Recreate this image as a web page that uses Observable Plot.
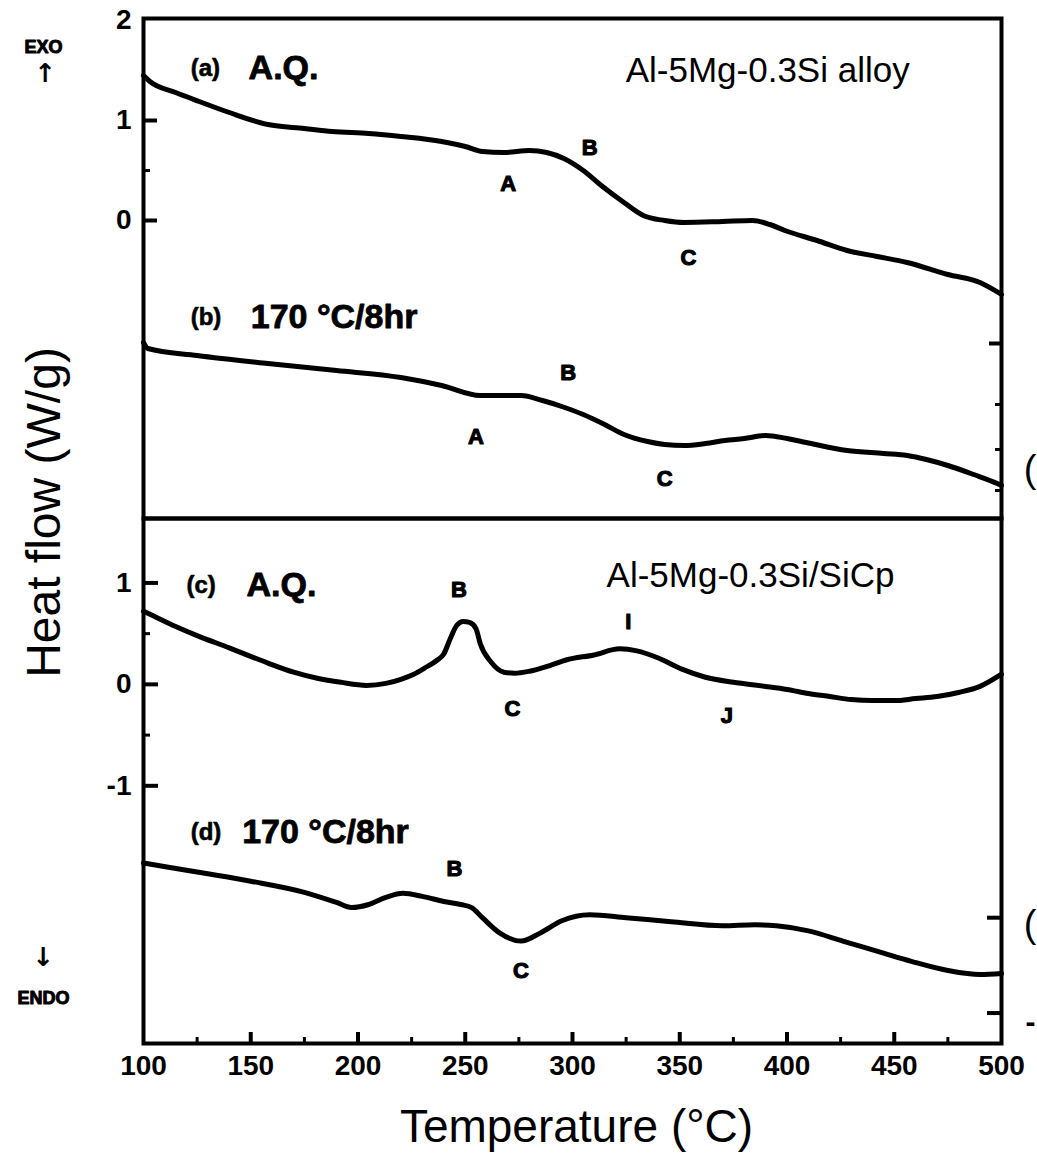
<!DOCTYPE html>
<html>
<head>
<meta charset="utf-8">
<script src="https://cdn.jsdelivr.net/npm/d3@7"></script>
<script src="https://cdn.jsdelivr.net/npm/@observablehq/plot@0.6"></script>
<style>
  html, body { margin: 0; padding: 0; background: #fff; }
  #fig { position: relative; width: 1037px; height: 1171px; background: #fff; overflow: hidden; }
  #fig svg { position: absolute; left: 0; }
</style>
</head>
<body>
<div id="fig"></div>
<script>
// ---------------- data ----------------
// (a) Al-5Mg-0.3Si alloy, as quenched
const tempA = [100,103,115,126,140,158,175,188,205,220,239,250,258,268,280,288,296,305,314,324,333,343,352,370,384,392,399,414,428,442,456,475,490,500];
const heatA = [1.45,1.39,1.28,1.19,1.08,0.96,0.92,0.89,0.87,0.84,0.79,0.74,0.69,0.68,0.7,0.68,0.62,0.5,0.34,0.18,0.05,0.0,-0.02,-0.01,0.0,-0.04,-0.1,-0.2,-0.3,-0.36,-0.42,-0.54,-0.62,-0.74];
// (b) Al-5Mg-0.3Si alloy, 170 °C/8hr
const tempB = [100,102,125,158,190,220,239,257,266,276,286,295,305,315,324,335,343,352,362,371,380,390,400,409,428,445,456,465,475,487,498,500];
const heatB = [-1.22,-1.28,-1.35,-1.43,-1.5,-1.57,-1.65,-1.75,-1.75,-1.75,-1.8,-1.86,-1.94,-2.04,-2.14,-2.21,-2.24,-2.25,-2.23,-2.2,-2.18,-2.15,-2.18,-2.22,-2.3,-2.33,-2.35,-2.39,-2.45,-2.54,-2.63,-2.65];
// (c) Al-5Mg-0.3Si/SiCp, as quenched
const tempC = [100,102,115,125,140,158,170,181,192,204,213,220,226,231,237,240,243,246,249,252,255,257,262,268,273,280,290,297,310,322,330,340,351,362,375,390,400,410,420,430,440,450,460,470,480,490,500];
const heatC = [0.72,0.70,0.57,0.48,0.36,0.21,0.12,0.06,0.02,-0.01,0.01,0.05,0.1,0.16,0.24,0.3,0.45,0.58,0.62,0.61,0.55,0.4,0.22,0.12,0.11,0.13,0.19,0.24,0.29,0.35,0.33,0.26,0.15,0.07,0.02,-0.02,-0.05,-0.09,-0.12,-0.15,-0.16,-0.16,-0.14,-0.12,-0.08,-0.02,0.1];
// (d) Al-5Mg-0.3Si/SiCp, 170 °C/8hr
const tempD = [100,125,150,175,190,197,205,213,221,230,240,248,253,258,266,276,285,295,308,325,346,370,385,395,410,426,445,458,475,490,500];
const heatD = [-1.76,-1.85,-1.94,-2.05,-2.15,-2.2,-2.17,-2.1,-2.06,-2.09,-2.14,-2.17,-2.2,-2.3,-2.45,-2.53,-2.45,-2.33,-2.27,-2.3,-2.34,-2.38,-2.37,-2.38,-2.43,-2.53,-2.65,-2.73,-2.82,-2.86,-2.85];

// axis ticks
const xLabels = [100,150,200,250,300,350,400,450,500];
const xMajorTicks = [150,200,250,300,350,400,450];
const xMinorTicks = [125,175,225,275,325,375,425,475];
const yLabelsTop = [2,1,0];
const yMajorTop = [1,0];
const yMinorTop = [0.5];
const yLabelsBottom = [1,0,-1];
const yMajorBottom = [1,0,-1];
const yMinorBottom = [0.5,-0.5];
// stray ticks of the neighbouring figure on the right edge
const rightMajorTop = [-1.23];
const rightMinorTop = [-1.84,-2.29,-2.7];
const rightMajorBottom = [-2.3,-3.24];

// feature letters (temperature, heat flow)
const peakTop = [
  {label:"A", t:270, v:0.37}, {label:"B", t:308, v:0.73}, {label:"C", t:354, v:-0.37},
  {label:"A", t:255, v:-2.16}, {label:"B", t:298, v:-1.52}, {label:"C", t:343, v:-2.58}
];
const peakBottom = [
  {label:"B", t:247, v:0.93}, {label:"C", t:272, v:-0.24}, {label:"I", t:326, v:0.62}, {label:"J", t:372, v:-0.31},
  {label:"B", t:245, v:-1.82}, {label:"C", t:276, v:-2.82}
];
// panel captions
const captionSmallTop = [{label:"(a)", t:122, v:1.52}, {label:"(b)", t:122, v:-0.97}];
const captionBigTop = [{label:"A.Q.", t:149, v:1.52}, {label:"170 °C/8hr", t:150, v:-0.97}];
const captionSmallBottom = [{label:"(c)", t:120, v:0.975}, {label:"(d)", t:122, v:-1.46}];
const captionBigBottom = [{label:"A.Q.", t:148, v:0.975}, {label:"170 °C/8hr", t:146, v:-1.46}];
const alloyTop = [{label:"Al-5Mg-0.3Si alloy", t:391, v:1.5}];
const alloyBottom = [{label:"Al-5Mg-0.3Si/SiCp", t:383, v:1.07}];

const toRows = (ts, vs) => ts.map((t, i) => ({t, v: vs[i]}));
const curveA = toRows(tempA, heatA);
const curveB = toRows(tempB, heatB);
const curveC = toRows(tempC, heatC);
const curveD = toRows(tempD, heatD);

const FB = "'Liberation Sans Narrow','Liberation Sans',Arial,sans-serif";
const FR = "'Liberation Sans',Arial,sans-serif";
const W = 1037, ML = 143, MR = 36;

const lineOpts = {x: "t", y: "v", stroke: "#000", strokeWidth: 5, curve: "monotone-x", strokeLinejoin: "round", strokeLinecap: "round"};
const blank = () => "";
const heavy = {fontWeight: "bold", stroke: "#000", strokeWidth: 1.1, fill: "#000"};
const letterOpts = {x: "t", y: "v", text: "label", fontSize: 22, fontFamily: FR, ...heavy};

const topSvg = Plot.plot({
  width: W, height: 520,
  marginLeft: ML, marginRight: MR, marginTop: 18, marginBottom: 2,
  style: {background: "none", overflow: "visible", fontFamily: FR, color: "#000"},
  x: {domain: [100, 500], label: null, axis: null},
  y: {domain: [-2.98, 2.02], label: null},
  marks: [
    Plot.line(curveA, lineOpts),
    Plot.line(curveB, lineOpts),
    Plot.frame({stroke: "#000", strokeWidth: 4}),
    Plot.axisY(yMajorTop, {tickSize: -14, strokeWidth: 4, tickFormat: blank, label: null}),
    Plot.axisY(yMinorTop, {tickSize: -7, strokeWidth: 3, tickFormat: blank, label: null}),
    Plot.axisY(yLabelsTop, {tickSize: 0, tickPadding: 12, fontSize: 28, fontFamily: FB, ...heavy, tickFormat: d => String(d), label: null}),
    Plot.axisY(rightMajorTop, {anchor: "right", tickSize: -13, strokeWidth: 4, tickFormat: blank, label: null}),
    Plot.axisY(rightMinorTop, {anchor: "right", tickSize: -7, strokeWidth: 3, tickFormat: blank, label: null}),
    Plot.text(peakTop, letterOpts),
    Plot.text(captionSmallTop, {x: "t", y: "v", text: "label", fontSize: 24, fontFamily: FR, ...heavy, strokeWidth: 0.6, textAnchor: "start"}),
    Plot.text(captionBigTop, {x: "t", y: "v", text: "label", fontSize: 34, fontFamily: FR, ...heavy, strokeWidth: 0.8, textAnchor: "start"}),
    Plot.text(alloyTop, {x: "t", y: "v", text: "label", fontSize: 35, fontFamily: FR}),
    Plot.text(["EXO"], {text: d => d, frameAnchor: "top-left", textAnchor: "middle", dx: -100, dy: 22, fontSize: 18, fontFamily: FR, ...heavy, strokeWidth: 1}),
    Plot.text(["↑"], {text: d => d, frameAnchor: "top-left", textAnchor: "middle", dx: -98, dy: 45, fontSize: 26, fontWeight: "bold", fontFamily: "DejaVu Sans"}),
    Plot.text(["Heat flow (W/g)"], {text: d => d, frameAnchor: "left", textAnchor: "middle", rotate: -90, dx: -99, dy: 244, fontSize: 48, fontFamily: FR}),
    Plot.text(["("], {text: d => d, frameAnchor: "top-right", textAnchor: "end", dx: 35, dy: 437, fontSize: 38, fontFamily: FR})
  ]
});

const bottomSvg = Plot.plot({
  width: W, height: 653,
  marginLeft: ML, marginRight: MR, marginTop: 0, marginBottom: 128,
  style: {background: "none", overflow: "visible", fontFamily: FR, color: "#000"},
  x: {domain: [100, 500], label: null},
  y: {domain: [-3.54, 1.635], label: null},
  marks: [
    Plot.line(curveC, lineOpts),
    Plot.line(curveD, lineOpts),
    Plot.frame({stroke: "#000", strokeWidth: 4}),
    Plot.axisY(yMajorBottom, {tickSize: -15, strokeWidth: 4, tickFormat: blank, label: null}),
    Plot.axisY(yMinorBottom, {tickSize: -7, strokeWidth: 3, tickFormat: blank, label: null}),
    Plot.axisY(yLabelsBottom, {tickSize: 0, tickPadding: 12, fontSize: 28, fontFamily: FB, ...heavy, tickFormat: d => String(d), label: null}),
    Plot.axisY(rightMajorBottom, {anchor: "right", tickSize: -15, strokeWidth: 4, tickFormat: blank, label: null}),
    Plot.axisX(xMajorTicks, {tickSize: -11, strokeWidth: 4, tickFormat: blank, label: null}),
    Plot.axisX(xMinorTicks, {tickSize: -6, strokeWidth: 3, tickFormat: blank, label: null}),
    Plot.axisX(xLabels, {tickSize: 0, tickPadding: 12, fontSize: 28, fontFamily: FB, ...heavy, tickFormat: d => String(d), label: null}),
    Plot.text(peakBottom, letterOpts),
    Plot.text(captionSmallBottom, {x: "t", y: "v", text: "label", fontSize: 24, fontFamily: FR, ...heavy, strokeWidth: 0.6, textAnchor: "start"}),
    Plot.text(captionBigBottom, {x: "t", y: "v", text: "label", fontSize: 34, fontFamily: FR, ...heavy, strokeWidth: 0.8, textAnchor: "start"}),
    Plot.text(alloyBottom, {x: "t", y: "v", text: "label", fontSize: 35, fontFamily: FR}),
    Plot.text(["Temperature (°C)"], {text: d => d, frameAnchor: "bottom", textAnchor: "middle", dx: 4, dy: 98, fontSize: 46, fontFamily: FR}),
    Plot.text(["ENDO"], {text: d => d, frameAnchor: "bottom-left", textAnchor: "middle", dx: -100, dy: -40, fontSize: 18, fontFamily: FR, ...heavy, strokeWidth: 1}),
    Plot.text(["↓"], {text: d => d, frameAnchor: "bottom-left", textAnchor: "middle", dx: -100, dy: -78, fontSize: 26, fontWeight: "bold", fontFamily: "DejaVu Sans"}),
    Plot.text(["("], {text: d => d, frameAnchor: "top-right", textAnchor: "end", dx: 35, dy: 392, fontSize: 38, fontFamily: FR}),
    Plot.text(["-"], {text: d => d, frameAnchor: "top-right", textAnchor: "end", dx: 34, dy: 492, fontSize: 30, fontWeight: "bold", fontFamily: FR})
  ]
});

const fig = document.getElementById("fig");
topSvg.style.top = "0px";
bottomSvg.style.top = "518px";
fig.appendChild(topSvg);
fig.appendChild(bottomSvg);
</script>
</body>
</html>
